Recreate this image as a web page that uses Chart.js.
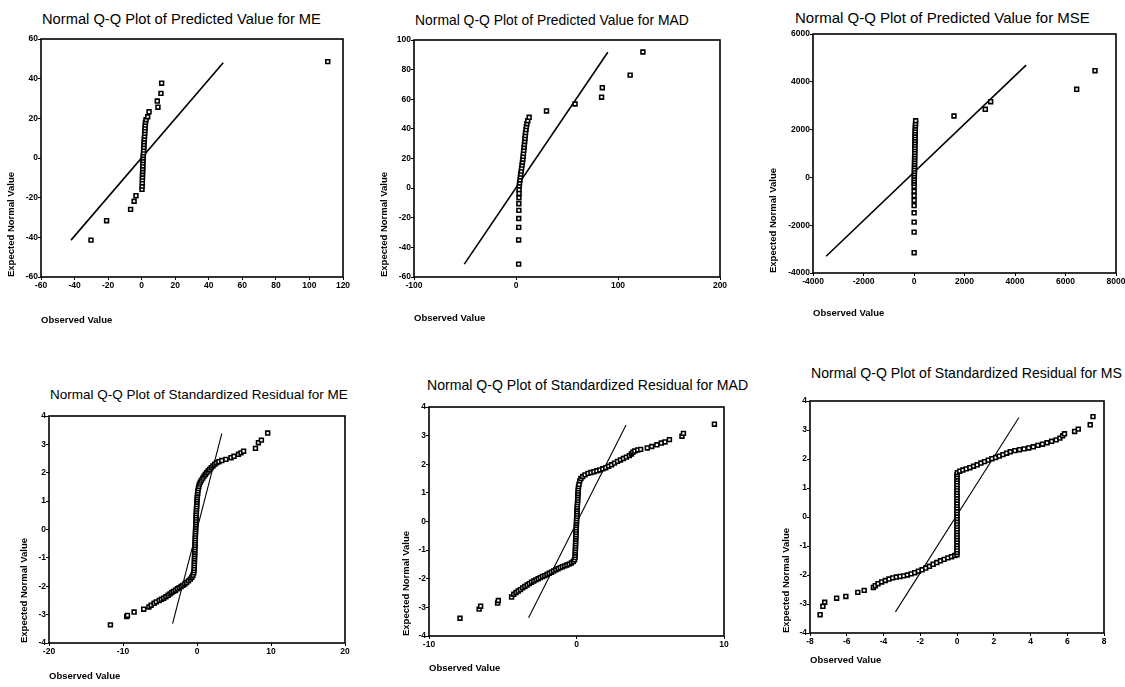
<!DOCTYPE html>
<html><head><meta charset="utf-8">
<script src="https://cdn.jsdelivr.net/npm/chart.js@4/dist/chart.umd.min.js"></script>
<style>
html,body{margin:0;padding:0;background:#fff;}
body{width:1125px;height:687px;position:relative;overflow:hidden;}
canvas{position:absolute;}
.ttl{position:absolute;white-space:nowrap;font-family:"Liberation Sans",Arial,sans-serif;color:#000;line-height:1.2;}
</style></head><body>
<script>
// ---------- DATA ----------
// Panel titles
const titles = [
  "Normal Q-Q Plot of Predicted Value for ME",
  "Normal Q-Q Plot of Predicted Value for MAD",
  "Normal Q-Q Plot of Predicted Value for MSE",
  "Normal Q-Q Plot of Standardized Residual for ME",
  "Normal Q-Q Plot of Standardized Residual for MAD",
  "Normal Q-Q Plot of Standardized Residual for MS"
];
const xAxisTitle = "Observed Value";
const yAxisTitle = "Expected Normal Value";

// Tick labels
const meXTicks = [-60,-40,-20,0,20,40,60,80,100,120];
const meYTicks = [-60,-40,-20,0,20,40,60];
const madXTicks = [-100,0,100,200];
const madYTicks = [-60,-40,-20,0,20,40,60,80,100];
const mseXTicks = [-4000,-2000,0,2000,4000,6000,8000];
const mseYTicks = [-4000,-2000,0,2000,4000,6000];
const meResXTicks = [-20,-10,0,10,20];
const madResXTicks = [-10,0,10];
const msResXTicks = [-8,-6,-4,-2,0,2,4,6,8];
const resYTicks = [-4,-3,-2,-1,0,1,2,3,4];

// Predicted value, ME
const meObs = [-30.2,-20.9,-6.6,-4.5,-3.4,0.2,
  0.3,0.4,0.4,0.5,0.5,0.6,0.6,0.7,0.7,0.8,0.9,1.0,1.1,1.2,1.3,1.4,1.5,1.6,1.7,1.8,1.9,2.0,2.1,2.3,2.6,
  3.6,4.4,9.7,9.3,11.5,11.9,110.9];
const meExp = [-41.4,-31.6,-25.9,-21.8,-19.0,-15.8,
  -14.2,-12.6,-11.0,-9.6,-8.2,-6.8,-5.4,-4.0,-2.6,-1.3,0.0,1.3,2.6,4.0,5.4,6.8,8.2,9.6,11.0,12.4,13.8,15.2,16.6,18.0,19.3,
  20.8,23.3,25.6,28.7,32.6,37.7,48.6];
const meLineObs = [-42.1,48.6];
const meLineExp = [-41.4,48.0];

// Predicted value, MAD
const madObs = [2.6,2.6,2.7,2.7,2.8,2.8,2.9,3.0,3.0,
  3.2,3.5,3.9,4.3,4.7,5.1,5.5,5.9,6.3,6.7,7.0,7.3,7.6,7.9,8.2,8.5,8.8,9.1,9.4,9.8,10.2,10.7,11.5,12.9,
  29.9,57.9,83.9,84.6,111.9,124.4];
const madExp = [-51.3,-35.0,-26.5,-20.5,-15.0,-10.5,-6.5,-3.5,-1.0,
  1.5,3.5,5.5,7.5,9.5,11.5,13.5,15.5,17.5,19.5,21.5,23.5,25.5,27.5,29.5,31.5,33.5,35.5,37.5,39.5,41.5,43.5,45.5,47.8,
  52.1,56.8,61.4,67.8,76.3,91.9];
const madLineObs = [-50.7,90];
const madLineExp = [-51.3,91.7];

// Predicted value, MSE
const mseObs = [5,5,5,5,5,5,5,5,5,
  8,10,12,13,15,16,18,20,21,23,24,26,28,30,31,33,35,37,39,41,43,45,48,52,56,60,66,
  1584,2823,3037,6443,7168];
const mseExp = [-3150,-2290,-1870,-1480,-1180,-960,-760,-580,-380,
  -250,-150,-50,50,150,250,350,450,550,650,750,850,950,1050,1150,1250,1350,1450,1550,1650,1750,1850,1950,2050,2150,2250,2370,
  2569,2849,3167,3686,4464];
const mseLineObs = [-3480,4440];
const mseLineExp = [-3300,4700];

// Standardized residual, ME
const meResObs = [-11.7,-9.5,-9.4,-8.5,-7.2,-6.5,-6.2,-5.8,-5.5,-5.1,-4.8,-4.5,-4.2,-3.9,-3.65,-3.4,-3.15,-2.9,-2.65,-2.4,-2.15,-1.9,-1.65,-1.4,-1.15,-0.9,-0.7,-0.55,-0.45,-0.4,-0.38,
  -0.37,-0.36,-0.35,-0.34,-0.33,-0.32,-0.31,-0.3,-0.29,-0.27,-0.26,-0.25,-0.24,-0.22,-0.21,-0.2,-0.19,-0.17,-0.16,-0.15,-0.14,-0.12,-0.11,-0.1,-0.08,-0.07,-0.05,-0.03,-0.01,0.01,0.03,0.06,0.09,
  0.12,0.18,0.25,0.33,0.45,0.6,0.78,0.95,1.12,1.3,1.5,1.7,1.92,2.15,2.4,2.65,2.95,3.35,3.9,4.6,5.0,5.6,5.95,6.3,7.9,8.3,8.7,9.55];
const meResExp = [-3.36,-3.07,-3.03,-2.91,-2.81,-2.73,-2.67,-2.6,-2.55,-2.5,-2.46,-2.42,-2.37,-2.32,-2.27,-2.22,-2.18,-2.14,-2.09,-2.05,-2.01,-1.97,-1.92,-1.87,-1.81,-1.75,-1.68,-1.61,-1.53,-1.45,-1.37,
  -1.28,-1.2,-1.12,-1.04,-0.96,-0.88,-0.8,-0.72,-0.64,-0.56,-0.48,-0.4,-0.32,-0.24,-0.16,-0.08,0,0.08,0.16,0.24,0.32,0.4,0.48,0.56,0.64,0.72,0.8,0.88,0.96,1.04,1.12,1.2,1.28,
  1.36,1.44,1.52,1.6,1.67,1.74,1.81,1.88,1.94,2.0,2.06,2.12,2.18,2.24,2.3,2.35,2.39,2.43,2.47,2.53,2.58,2.65,2.7,2.76,2.86,3.06,3.15,3.4];
const meResLineObs = [-3.3,3.35];
const meResLineExp = [-3.32,3.38];

// Standardized residual, MAD
const madResObs = [-7.9,-6.6,-6.5,-5.35,-5.3,-4.4,-4.25,-4.1,-3.95,-3.8,-3.65,-3.5,-3.35,-3.2,-3.05,-2.9,-2.75,-2.6,-2.45,-2.3,-2.15,-2.0,-1.85,-1.7,-1.55,-1.4,-1.25,-1.1,-0.95,-0.8,-0.65,-0.5,-0.35,-0.22,-0.14,-0.1,
  -0.09,-0.08,-0.08,-0.07,-0.07,-0.06,-0.06,-0.05,-0.05,-0.04,-0.03,-0.03,-0.02,-0.01,0,0,0.01,0.02,0.03,0.04,0.04,0.05,0.06,0.07,0.08,0.08,0.09,0.1,0.11,0.12,0.14,0.17,
  0.22,0.3,0.42,0.58,0.78,0.98,1.18,1.38,1.58,1.78,1.98,2.18,2.38,2.58,2.78,2.98,3.18,3.38,3.58,3.72,3.82,3.95,4.15,4.35,4.8,5.1,5.45,5.75,6.0,6.3,7.15,7.25,9.35];
const madResExp = [-3.38,-3.06,-2.96,-2.85,-2.76,-2.64,-2.54,-2.48,-2.43,-2.38,-2.32,-2.27,-2.22,-2.17,-2.12,-2.08,-2.04,-2.0,-1.96,-1.92,-1.89,-1.85,-1.81,-1.77,-1.73,-1.69,-1.65,-1.61,-1.58,-1.55,-1.52,-1.49,-1.45,-1.4,-1.34,-1.26,
  -1.18,-1.1,-1.02,-0.94,-0.86,-0.78,-0.7,-0.62,-0.54,-0.46,-0.38,-0.3,-0.22,-0.14,-0.06,0.02,0.1,0.18,0.26,0.34,0.42,0.5,0.58,0.66,0.74,0.82,0.9,0.98,1.06,1.14,1.22,1.3,
  1.42,1.5,1.57,1.63,1.68,1.71,1.74,1.77,1.8,1.84,1.88,1.93,1.98,2.04,2.1,2.15,2.2,2.25,2.3,2.36,2.42,2.46,2.5,2.52,2.57,2.62,2.68,2.74,2.78,2.86,2.98,3.08,3.4];
const madResLineObs = [-3.25,3.36];
const madResLineExp = [-3.36,3.37];

// Standardized residual, MS
const msResObs = [-7.45,-7.3,-7.2,-6.55,-6.05,-5.4,-5.05,-4.55,-4.45,-4.3,-4.1,-3.9,-3.7,-3.5,-3.3,-3.1,-2.9,-2.7,-2.5,-2.3,-2.1,-1.9,-1.7,-1.5,-1.3,-1.1,-0.9,-0.7,-0.5,-0.3,-0.12,0,
  0,0,0,0,0,0,0,0,0,0,0,0,0,0,0,0,0,0,0,0,0,0,0,0,0,0,0,0,0,0,0,
  0.02,0.15,0.32,0.5,0.7,0.9,1.1,1.3,1.5,1.7,1.9,2.1,2.3,2.5,2.7,2.9,3.15,3.4,3.65,3.9,4.15,4.4,4.65,4.9,5.15,5.4,5.6,5.75,5.85,6.4,6.6,7.25,7.4];
const msResExp = [-3.37,-3.08,-2.94,-2.8,-2.74,-2.6,-2.53,-2.43,-2.37,-2.3,-2.24,-2.19,-2.14,-2.1,-2.07,-2.05,-2.03,-2.0,-1.96,-1.92,-1.87,-1.82,-1.76,-1.7,-1.63,-1.57,-1.51,-1.46,-1.41,-1.37,-1.33,-1.3,
  -1.22,-1.13,-1.04,-0.95,-0.86,-0.77,-0.68,-0.59,-0.5,-0.41,-0.32,-0.23,-0.14,-0.05,0.04,0.13,0.22,0.31,0.4,0.49,0.58,0.67,0.76,0.85,0.94,1.03,1.12,1.21,1.3,1.38,1.46,
  1.53,1.58,1.62,1.66,1.7,1.75,1.8,1.86,1.91,1.96,2.01,2.05,2.1,2.15,2.2,2.25,2.29,2.32,2.35,2.38,2.42,2.47,2.51,2.56,2.61,2.66,2.72,2.8,2.87,2.95,3.03,3.18,3.46];
const msResLineObs = [-3.35,3.37];
const msResLineExp = [-3.27,3.43];

// ---------- LAYOUT (pixel geometry of each panel) ----------
const FONT = "'Liberation Sans', Arial, Helvetica, sans-serif";
const panels = [
  {obs:meObs, exp:meExp, lo:meLineObs, le:meLineExp, xt:meXTicks, yt:meYTicks, lw:1.6,
   pl:41, pr:343, pt:39, pb:277, ytx:12, xty:320, tx:42, ty:20, ts:14.7},
  {obs:madObs, exp:madExp, lo:madLineObs, le:madLineExp, xt:madXTicks, yt:madYTicks, lw:1.6,
   pl:414, pr:720, pt:40, pb:277, ytx:385, xty:318, tx:415, ty:20.7, ts:13.9},
  {obs:mseObs, exp:mseExp, lo:mseLineObs, le:mseLineExp, xt:mseXTicks, yt:mseYTicks, lw:1.6,
   pl:813, pr:1116, pt:34, pb:273, ytx:774, xty:313, tx:795, ty:18.3, ts:15.0, padR:9},
  {obs:meResObs, exp:meResExp, lo:meResLineObs, le:meResLineExp, xt:meResXTicks, yt:resYTicks, lw:1.1,
   pl:49, pr:345, pt:416, pb:643, ytx:25, xty:676.5, tx:50, ty:395, ts:13.5},
  {obs:madResObs, exp:madResExp, lo:madResLineObs, le:madResLineExp, xt:madResXTicks, yt:resYTicks, lw:1.1,
   pl:429, pr:724, pt:407, pb:636, ytx:407, xty:668, tx:427, ty:385.7, ts:14.1},
  {obs:msResObs, exp:msResExp, lo:msResLineObs, le:msResLineExp, xt:msResXTicks, yt:resYTicks, lw:1.1,
   pl:810, pr:1104, pt:401, pb:633, ytx:787, xty:660, tx:811, ty:373.3, ts:14.1}
];

const framePlugin = {
  id: 'frame',
  afterDatasetsDraw(chart) {
    const {ctx, chartArea: a} = chart;
    ctx.save();
    ctx.strokeStyle = '#000';
    ctx.lineWidth = 1.6;
    ctx.strokeRect(a.left, a.top, a.right - a.left, a.bottom - a.top);
    ctx.restore();
  }
};

panels.forEach((p, i) => {
  // title as real text
  const d = document.createElement('div');
  d.className = 'ttl';
  d.textContent = titles[i];
  d.style.fontSize = p.ts + 'px';
  d.style.left = p.tx + 'px';
  d.style.top = (p.ty - 0.6 * p.ts) + 'px';
  document.body.appendChild(d);

  const L = Math.round(p.ytx - 5.7);
  const T = p.pt - 8;
  const padR = p.padR !== undefined ? p.padR : 14;
  const W = Math.ceil(p.pr + padR - L);
  const hx = p.xty - p.pb + 5.7;
  const H = Math.ceil(p.pb - T + hx);
  const padB = H - (p.pb - T) - hx;
  const yW = p.pl - L;

  const c = document.createElement('canvas');
  c.width = W; c.height = H;
  c.style.left = L + 'px'; c.style.top = T + 'px';
  c.style.width = W + 'px'; c.style.height = H + 'px';
  document.body.appendChild(c);

  const pts = p.obs.map((x, k) => ({x: x, y: p.exp[k]}));
  const line = p.lo.map((x, k) => ({x: x, y: p.le[k]}));
  const tickFont = {family: FONT, size: 8.5, weight: 'bold'};
  const titleFont = {family: FONT, size: 9.5, weight: 'bold'};

  new Chart(c, {
    type: 'scatter',
    data: {datasets: [
      {data: pts, pointStyle: 'rect', pointRadius: 2.7, pointHoverRadius: 2.7,
       borderColor: '#000', backgroundColor: '#fff', borderWidth: 1.6},
      {data: line, showLine: true, pointRadius: 0, borderColor: '#000',
       borderWidth: p.lw, fill: false}
    ]},
    options: {
      responsive: false, animation: false, devicePixelRatio: 1, events: [],
      layout: {padding: {left: 0, right: padR, top: 8, bottom: padB}},
      plugins: {legend: {display: false}, tooltip: {enabled: false}, title: {display: false}},
      scales: {
        x: {
          type: 'linear', position: 'bottom',
          min: p.xt[0], max: p.xt[p.xt.length - 1],
          afterBuildTicks: s => { s.ticks = p.xt.map(v => ({value: v})); },
          afterFit: s => { s.height = hx; s.paddingLeft = 0; s.paddingRight = 0; },
          grid: {display: true, drawOnChartArea: false, drawTicks: true, tickLength: 3, color: '#000', lineWidth: 1},
          border: {display: false},
          ticks: {font: tickFont, color: '#000', padding: 1, maxRotation: 0, autoSkip: false,
                  callback: v => String(v)},
          title: {display: true, text: xAxisTitle, align: 'start', font: titleFont, color: '#000',
                  padding: {top: 0, bottom: 0}}
        },
        y: {
          type: 'linear', position: 'left',
          min: p.yt[0], max: p.yt[p.yt.length - 1],
          afterBuildTicks: s => { s.ticks = p.yt.map(v => ({value: v})); },
          afterFit: s => { s.width = yW; s.paddingTop = 0; s.paddingBottom = 0; },
          grid: {display: true, drawOnChartArea: false, drawTicks: true, tickLength: 3, color: '#000', lineWidth: 1},
          border: {display: false},
          ticks: {font: tickFont, color: '#000', padding: 0, autoSkip: false,
                  callback: v => String(v)},
          title: {display: true, text: yAxisTitle, align: 'start', font: titleFont, color: '#000',
                  padding: {top: 0, bottom: 0}}
        }
      }
    },
    plugins: [framePlugin]
  });
});
</script>
</body></html>
